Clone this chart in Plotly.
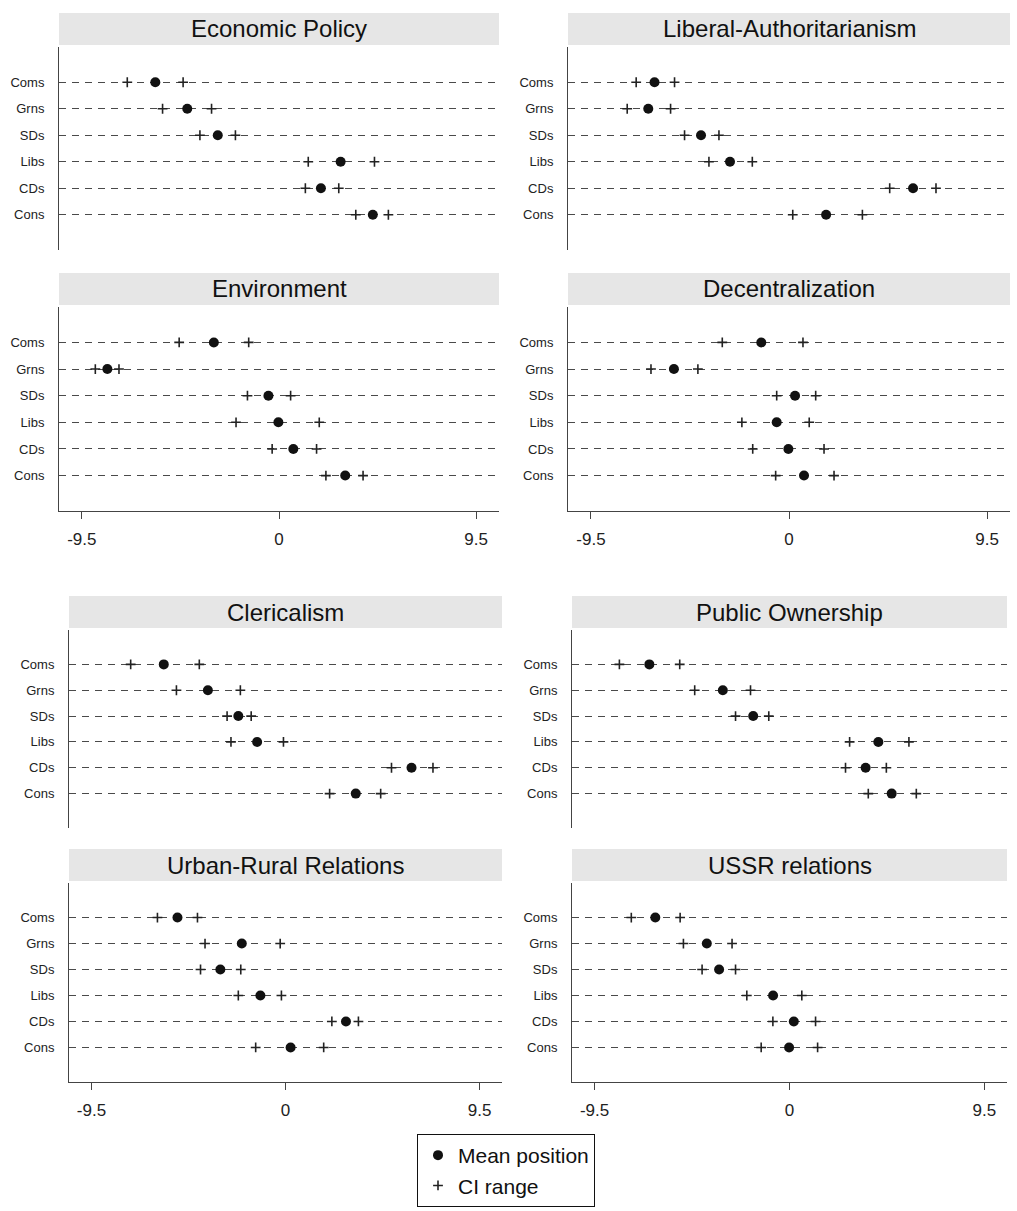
import plotly.graph_objects as go

parties = ["Coms", "Grns", "SDs", "Libs", "CDs", "Cons"]
titles = ["Economic Policy", "Liberal-Authoritarianism", "Environment", "Decentralization",
          "Clericalism", "Public Ownership", "Urban-Rural Relations", "USSR relations"]
x_tickvals = [-9.5, 0, 9.5]
x_ticktext = ["-9.5", "0", "9.5"]

econ_mean = [-5.96, -4.42, -2.95, 2.97, 2.02, 4.52]
econ_lo = [-7.31, -5.61, -3.81, 1.41, 1.27, 3.70]
econ_hi = [-4.62, -3.25, -2.10, 4.60, 2.88, 5.27]

libauth_mean = [-6.45, -6.75, -4.22, -2.83, 5.95, 1.78]
libauth_lo = [-7.33, -7.76, -5.01, -3.84, 4.83, 0.18]
libauth_hi = [-5.49, -5.68, -3.36, -1.76, 7.05, 3.52]

env_mean = [-3.14, -8.27, -0.51, -0.03, 0.69, 3.19]
env_lo = [-4.81, -8.85, -1.52, -2.07, -0.33, 2.26]
env_hi = [-1.46, -7.71, 0.56, 1.94, 1.81, 4.05]

decent_mean = [-1.33, -5.52, 0.29, -0.59, -0.03, 0.72]
decent_lo = [-3.20, -6.62, -0.59, -2.26, -1.74, -0.64]
decent_hi = [0.67, -4.37, 1.28, 0.97, 1.68, 2.16]

cler_mean = [-5.96, -3.80, -2.31, -1.39, 6.17, 3.44]
cler_lo = [-7.58, -5.34, -2.86, -2.67, 5.19, 2.16]
cler_hi = [-4.22, -2.21, -1.68, -0.10, 7.22, 4.66]

pubown_mean = [-6.83, -3.25, -1.77, 4.33, 3.71, 4.98]
pubown_lo = [-8.29, -4.62, -2.63, 2.93, 2.73, 3.84]
pubown_hi = [-5.35, -1.90, -1.01, 5.82, 4.72, 6.18]

urban_mean = [-5.29, -2.14, -3.19, -1.23, 2.96, 0.25]
urban_lo = [-6.27, -3.94, -4.16, -2.31, 2.27, -1.46]
urban_hi = [-4.31, -0.26, -2.19, -0.20, 3.57, 1.87]

ussr_mean = [-6.54, -4.03, -3.43, -0.80, 0.21, -0.02]
ussr_lo = [-7.71, -5.17, -4.26, -2.08, -0.81, -1.38]
ussr_hi = [-5.33, -2.80, -2.63, 0.60, 1.27, 1.37]

panels = [
    (econ_mean, econ_lo, econ_hi),
    (libauth_mean, libauth_lo, libauth_hi),
    (env_mean, env_lo, env_hi),
    (decent_mean, decent_lo, decent_hi),
    (cler_mean, cler_lo, cler_hi),
    (pubown_mean, pubown_lo, pubown_hi),
    (urban_mean, urban_lo, urban_hi),
    (ussr_mean, ussr_lo, ussr_hi),
]

W, H = 1017, 1211
# panel boxes in pixels: left, right, top, bottom
boxes = [
    (59, 499, 47, 250), (568, 1010, 47, 250),
    (59, 499, 307, 511), (568, 1010, 307, 511),
    (69, 502, 630, 828), (572, 1007, 630, 828),
    (69, 502, 883, 1082), (572, 1007, 883, 1082),
]
show_xaxis = [False, False, True, True, False, False, True, True]

FONT = "Liberation Sans, Arial, sans-serif"
fig = go.Figure()
layout = {}
shapes = []
annotations = []

for i, ((mean, lo, hi), (l, r, t, b)) in enumerate(zip(panels, boxes)):
    n = i + 1
    xa = "x" if n == 1 else f"x{n}"
    ya = "y" if n == 1 else f"y{n}"
    fig.add_trace(go.Scatter(
        x=lo + hi, y=parties + parties, mode="markers",
        marker=dict(symbol="cross-thin", size=7, line=dict(width=1.6, color="#222")),
        name="CI range", showlegend=(n == 1), legendrank=2,
        xaxis=xa, yaxis=ya, hoverinfo="x+y"))
    fig.add_trace(go.Scatter(
        x=mean, y=parties, mode="markers",
        marker=dict(symbol="circle", size=10, color="#111"),
        name="Mean position", showlegend=(n == 1), legendrank=1,
        xaxis=xa, yaxis=ya, hoverinfo="x+y"))

    xkey = "xaxis" if n == 1 else f"xaxis{n}"
    ykey = "yaxis" if n == 1 else f"yaxis{n}"
    sx = show_xaxis[i]
    layout[xkey] = dict(
        domain=[l / W, r / W], anchor=ya, range=[-10.6, 10.6],
        showgrid=False, zeroline=False,
        showline=sx, linecolor="#444", linewidth=1,
        ticks="outside" if sx else "", ticklen=7, tickcolor="#444",
        tickvals=x_tickvals, ticktext=x_ticktext, showticklabels=sx,
        ticklabelstandoff=6,
        tickfont=dict(family=FONT, size=17, color="#222"),
    )
    layout[ykey] = dict(
        domain=[(H - b) / H, (H - t) / H], anchor=xa,
        type="category", categoryorder="array", categoryarray=parties[::-1],
        range=[-1.33, 6.33],
        showgrid=True, gridcolor="#4a4a4a", gridwidth=1, griddash="7px,6px",
        zeroline=False, showline=True, linecolor="#444", linewidth=1,
        ticks="", ticklabelstandoff=11,
        tickfont=dict(family=FONT, size=13, color="#222"),
    )
    height = b - t
    y0 = 1 + 2 / height
    y1 = 1 + 34 / height
    shapes.append(dict(type="rect", xref=f"{xa} domain", yref=f"{ya} domain",
                       x0=0, x1=1, y0=y0, y1=y1, fillcolor="#e6e6e6",
                       line=dict(width=0), layer="below"))
    annotations.append(dict(text=titles[i], xref=f"{xa} domain", yref=f"{ya} domain",
                            x=0.5, y=(y0 + y1) / 2, xanchor="center", yanchor="middle",
                            showarrow=False,
                            font=dict(family=FONT, size=24, color="#111")))

fig.update_layout(
    width=W, height=H,
    margin=dict(l=0, r=0, t=0, b=0),
    paper_bgcolor="white", plot_bgcolor="white",
    shapes=shapes, annotations=annotations,
    legend=dict(x=417 / W, y=(H - 1134) / H, xanchor="left", yanchor="top",
                bordercolor="#111", borderwidth=1, bgcolor="white",
                font=dict(family=FONT, size=21, color="#111"),
                itemsizing="trace", tracegroupgap=0),
    **layout,
)

fig.write_html("out.html")
